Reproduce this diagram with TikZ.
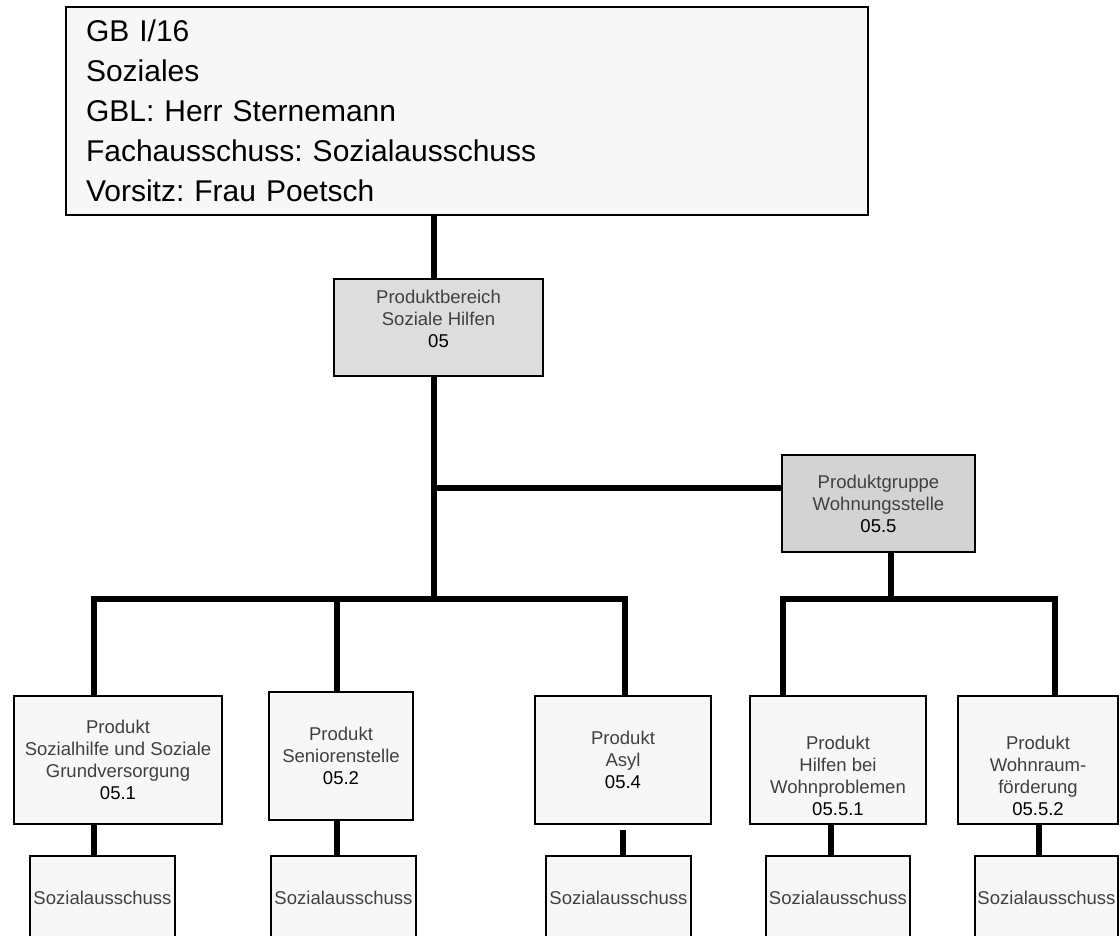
\documentclass[tikz,border=0pt]{standalone}
\usepackage{fontspec}
\setmainfont{Liberation Sans}
\frenchspacing
\definecolor{orgtxt}{HTML}{404040}
\definecolor{orgpale}{HTML}{F7F7F7}
\definecolor{orggray}{HTML}{DDDDDD}
\definecolor{orgdark}{HTML}{D3D3D3}
\tikzset{
  unit/.style={draw=black, line width=1.2pt, fill=orgpale, inner sep=0pt,
    align=center, text=orgtxt, font=\fontsize{13.9}{16.5}\selectfont},
  headbox/.style={draw=black, line width=1.2pt, fill=orgpale, inner xsep=15pt,
    inner ysep=0pt, align=left, font=\fontsize{22.5}{30}\selectfont},
  conn/.style={line width=4.5pt, black},
}

\begin{document}
\begin{tikzpicture}[x=0.75pt, y=-0.75pt]
        \useasboundingbox (0,0) rectangle (1120,935);
        % head of the department
        \node[headbox, minimum width=601.5pt, minimum height=156pt, text width=571.5pt] (gb) at (467,111)
          {GB I/16\\Soziales\\GBL: Herr Sternemann\\Fachausschuss: Sozialausschuss\\Vorsitz: Frau Poetsch};
        \node[unit, fill=orggray, minimum width=156.75pt, minimum height=72.75pt] (pb) at (438.5,327.5)
          {Produktbereich\\Soziale Hilfen\\{\color{black}05}\rule[-13.5pt]{0pt}{0pt}};
        \node[unit, fill=orgdark, minimum width=144.75pt, minimum height=72.75pt] (pg) at (878.5,503.5)
          {Produktgruppe\\Wohnungsstelle\\{\color{black}05.5}};
        % products
        \node[unit, minimum width=156pt, minimum height=96pt] (b1) at (118,760)
          {Produkt\\Sozialhilfe und Soziale\\Grundversorgung\\{\color{black}05.1}};
        \node[unit, minimum width=108pt, minimum height=96pt] (b2) at (341,756)
          {Produkt\\Seniorenstelle\\{\color{black}05.2}};
        \node[unit, minimum width=132pt, minimum height=96pt] (b3) at (623,760)
          {Produkt\\Asyl\\{\color{black}05.4}};
        \node[unit, minimum width=132pt, minimum height=96pt] (b4) at (838,760)
          {\rule{0pt}{34pt}Produkt\\Hilfen bei\\Wohnproblemen\\{\color{black}05.5.1}};
        \node[unit, minimum width=120pt, minimum height=96pt] (b5) at (1038,760)
          {\rule{0pt}{34pt}Produkt\\Wohnraum-\\förderung\\{\color{black}05.5.2}};
        % committees
        \node[unit, minimum width=108.75pt, minimum height=63pt] (c1) at (102.5,898) {Sozialausschuss};
        \node[unit, minimum width=108.75pt, minimum height=63pt] (c2) at (343.5,898) {Sozialausschuss};
        \node[unit, minimum width=108.75pt, minimum height=63pt] (c3) at (618.5,898) {Sozialausschuss};
        \node[unit, minimum width=108pt, minimum height=63pt] (c4) at (838,898) {Sozialausschuss};
        \node[unit, minimum width=107.25pt, minimum height=63pt] (c5) at (1046.5,898) {Sozialausschuss};
        % joints of the tree
        \coordinate (trunk) at (434,599);
        \coordinate (branch) at (434,488);
        \coordinate (pgdrop) at (891,599);
        \coordinate (d1) at (94,599);
        \coordinate (d2) at (337,599);
        \coordinate (d3) at (625,599);
        \coordinate (d4) at (783,599);
        \coordinate (d5) at (1055,599);
        \draw[conn] (gb.south -| trunk) -- (pb.north -| trunk);
        \draw[conn] (pb.south -| trunk) -- (trunk);
        \draw[conn] (branch) -- (pg.west |- branch);
        \draw[conn] (pg.south -| pgdrop) -- (pgdrop);
        \draw[conn] (b1.north -| d1) -- (d1) -- (d3) -- (b3.north -| d3);
        \draw[conn] (d2) -- (b2.north -| d2);
        \draw[conn] (b4.north -| d4) -- (d4) -- (d5) -- (b5.north -| d5);
        \foreach \i/\x/\s in {1/94/0,2/337/0,3/623/3.75,4/831/0,5/1039/0}
          \draw[conn, shorten <=\s pt] (b\i.south -| \x,0) -- (c\i.north -| \x,0);
      \end{tikzpicture}
\end{document}
